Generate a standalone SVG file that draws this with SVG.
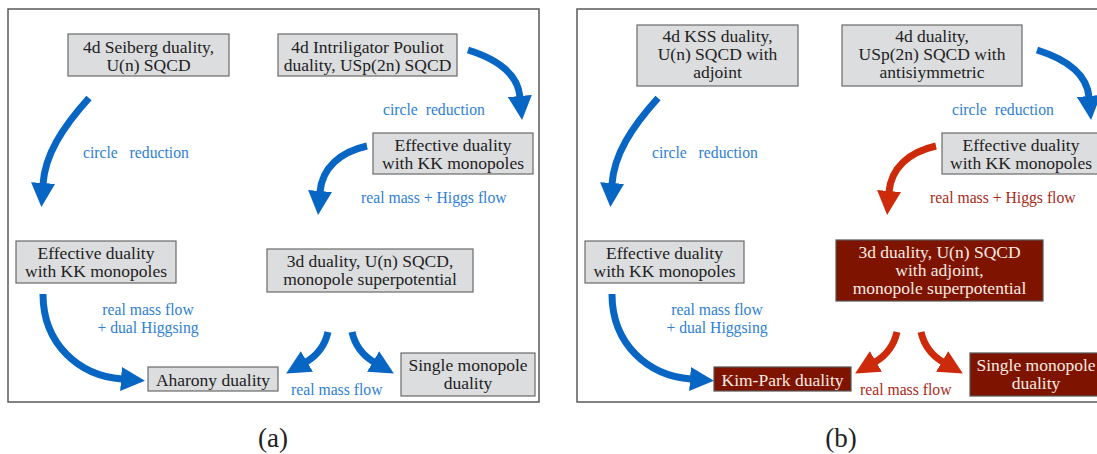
<svg xmlns="http://www.w3.org/2000/svg" width="1097" height="454" viewBox="0 0 1097 454">
<style>
.frame{fill:#fff;stroke:#5a5a5a;stroke-width:1.5}
.gbox{fill:#dcdddf;stroke:#6a6a6a;stroke-width:1.2}
.rbox{fill:#7e1300;stroke:#555;stroke-width:1.2}
.nt{font-family:"Liberation Serif",serif;font-size:17.5px;text-anchor:middle;fill:#222}
.rt{font-family:"Liberation Serif",serif;font-size:17.5px;text-anchor:middle;fill:#f6ebe4}
.bl{font-family:"Liberation Serif",serif;font-size:15.7px;fill:#2f7fd2}
.rl{font-family:"Liberation Serif",serif;font-size:15.7px;fill:#a82a18}
.ab{fill:none;stroke:#0766c4;stroke-width:7}
.ar{fill:none;stroke:#cc2a0a;stroke-width:7}
.cap{font-family:"Liberation Serif",serif;font-size:27px;text-anchor:middle;fill:#222}
</style>
<defs>
<marker id="hb" viewBox="0 0 24 24" markerWidth="24" markerHeight="24" markerUnits="userSpaceOnUse" refX="1" refY="12" orient="auto"><path d="M0,0 L24,12 L0,24 z" fill="#0766c4"/></marker>
<marker id="hr" viewBox="0 0 24 24" markerWidth="24" markerHeight="24" markerUnits="userSpaceOnUse" refX="1" refY="12" orient="auto"><path d="M0,0 L24,12 L0,24 z" fill="#cc2a0a"/></marker>
</defs>
<rect x="0" y="0" width="1097" height="454" fill="#fff"/>
<rect class="frame" x="8" y="9" width="531" height="393"/>
<rect class="frame" x="577" y="9" width="530" height="393"/>

<g id="connectors">
<path class="ab" d="M89,98 C62,128 45,155 43,184" marker-end="url(#hb)"/>
<path class="ab" d="M468,50 C500,60 518,75 520,97" marker-end="url(#hb)"/>
<path class="ab" d="M367,146 C340,152 322,168 320,192" marker-end="url(#hb)"/>
<path class="ab" d="M43,294 C43,345 80,376 122,379" marker-end="url(#hb)"/>
<path class="ab" d="M328,332 C325,345 318,355 306,362" marker-end="url(#hb)"/>
<path class="ab" d="M352,332 C355,345 362,355 374,362" marker-end="url(#hb)"/>

<path class="ab" d="M658,98 C631,128 614,155 612,184" marker-end="url(#hb)"/>
<path class="ab" d="M1037,50 C1069,60 1087,75 1089,97" marker-end="url(#hb)"/>
<path class="ar" d="M936,146 C909,152 891,168 889,192" marker-end="url(#hr)"/>
<path class="ab" d="M612,294 C612,345 649,376 691,379" marker-end="url(#hb)"/>
<path class="ar" d="M897,332 C894,345 887,355 875,362" marker-end="url(#hr)"/>
<path class="ar" d="M921,332 C924,345 931,355 943,362" marker-end="url(#hr)"/>
</g>

<g id="labels">
<text class="bl" x="83" y="158" xml:space="preserve">circle   reduction</text>
<text class="bl" x="383" y="115" xml:space="preserve">circle  reduction</text>
<text class="bl" x="361" y="203">real mass + Higgs flow</text>
<text class="bl" x="148" y="315" text-anchor="middle">real mass flow</text>
<text class="bl" x="148" y="333" text-anchor="middle">+ dual Higgsing</text>
<text class="bl" x="291" y="395">real mass flow</text>

<text class="bl" x="652" y="158" xml:space="preserve">circle   reduction</text>
<text class="bl" x="952" y="115" xml:space="preserve">circle  reduction</text>
<text class="rl" x="930" y="203">real mass + Higgs flow</text>
<text class="bl" x="717" y="315" text-anchor="middle">real mass flow</text>
<text class="bl" x="717" y="333" text-anchor="middle">+ dual Higgsing</text>
<text class="rl" x="860" y="395">real mass flow</text>
</g>

<g id="a-seiberg"><rect class="gbox" x="68" y="34" width="161" height="42"/><text class="nt" x="148.5" y="52.5">4d Seiberg duality,</text><text class="nt" x="148.5" y="70.5">U(n) SQCD</text></g>
<g id="a-ip"><rect class="gbox" x="278" y="34" width="179" height="42"/><text class="nt" x="367.5" y="52.5">4d Intriligator Pouliot</text><text class="nt" x="367.5" y="70.5">duality, USp(2n) SQCD</text></g>
<g id="a-eff-right"><rect class="gbox" x="373" y="133" width="160" height="41"/><text class="nt" x="453" y="150.5">Effective duality</text><text class="nt" x="453" y="168.5">with KK monopoles</text></g>
<g id="a-eff-left"><rect class="gbox" x="16" y="241" width="160" height="42"/><text class="nt" x="96" y="258.5">Effective duality</text><text class="nt" x="96" y="276.5">with KK monopoles</text></g>
<g id="a-3d"><rect class="gbox" x="267" y="249" width="206" height="43"/><text class="nt" x="370" y="267">3d duality, U(n) SQCD,</text><text class="nt" x="370" y="285">monopole superpotential</text></g>
<g id="a-aharony"><rect class="gbox" x="148" y="367" width="130" height="24"/><text class="nt" x="213" y="385.5">Aharony duality</text></g>
<g id="a-single"><rect class="gbox" x="401" y="353" width="134" height="43"/><text class="nt" x="468" y="371">Single monopole</text><text class="nt" x="468" y="389">duality</text></g>

<g id="b-kss"><rect class="gbox" x="637" y="25" width="161" height="61"/><text class="nt" x="717.5" y="42">4d KSS duality,</text><text class="nt" x="717.5" y="60">U(n) SQCD with</text><text class="nt" x="717.5" y="78">adjoint</text></g>
<g id="b-usp"><rect class="gbox" x="842" y="25" width="180" height="61"/><text class="nt" x="932" y="42">4d duality,</text><text class="nt" x="932" y="60">USp(2n) SQCD with</text><text class="nt" x="932" y="78">antisiymmetric</text></g>
<g id="b-eff-right"><rect class="gbox" x="942" y="133" width="160" height="41"/><text class="nt" x="1021" y="150.5">Effective duality</text><text class="nt" x="1021" y="168.5">with KK monopoles</text></g>
<g id="b-eff-left"><rect class="gbox" x="585" y="241" width="159" height="42"/><text class="nt" x="664.5" y="258.5">Effective duality</text><text class="nt" x="664.5" y="276.5">with KK monopoles</text></g>
<g id="b-3d"><rect class="rbox" x="836" y="240" width="207" height="61"/><text class="rt" x="939.5" y="258">3d duality, U(n) SQCD</text><text class="rt" x="939.5" y="276">with adjoint,</text><text class="rt" x="939.5" y="294">monopole superpotential</text></g>
<g id="b-kimpark"><rect class="rbox" x="714" y="367" width="137" height="24"/><text class="rt" x="782.5" y="385.5">Kim-Park duality</text></g>
<g id="b-single"><rect class="rbox" x="970" y="353" width="134" height="43"/><text class="rt" x="1036" y="371">Single monopole</text><text class="rt" x="1036" y="389">duality</text></g>

<text class="cap" x="273" y="447">(a)</text>
<text class="cap" x="841" y="447">(b)</text>
</svg>
